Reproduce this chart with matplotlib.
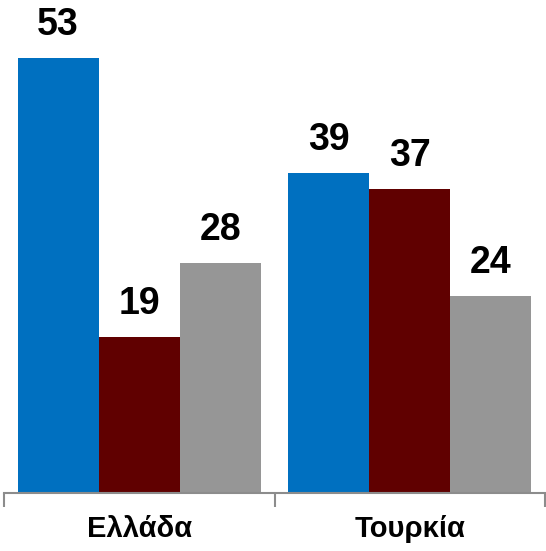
import matplotlib
matplotlib.use("Agg")
import matplotlib.pyplot as plt
import numpy as np

countries = ["Ελλάδα", "Τουρκία"]
series_a = [53, 39]
series_b = [19, 37]
series_c = [28, 24]
colors = ["#0070C0", "#600000", "#969696"]

plt.rcParams["font.family"] = ["Liberation Sans Narrow", "Liberation Sans", "DejaVu Sans"]

fig = plt.figure(figsize=(5.46, 5.51), dpi=100)
ax = fig.add_axes([4 / 546, 58 / 551, 541 / 546, 493 / 551])

x = np.arange(len(countries))
width = 0.3
for i, (vals, color) in enumerate(zip([series_a, series_b, series_c], colors)):
    pos = x + (i - 1) * width
    ax.bar(pos, vals, width=width, color=color, edgecolor="none")
    for p, v in zip(pos, vals):
        ax.text(p, v + 1.8, f"{v}", ha="center", va="bottom",
                fontsize=27, fontweight="bold", color="black")

ax.set_xlim(-0.5, len(countries) - 0.5)
ax.set_ylim(0, 60)
for side in ["top", "right", "left"]:
    ax.spines[side].set_visible(False)
ax.spines["bottom"].set_color("#8c8c8c")
ax.spines["bottom"].set_linewidth(1.5)
ax.set_yticks([])
ax.set_xticks([-0.5, 0.5, 1.5])
ax.set_xticklabels([])
ax.tick_params(axis="x", length=10, width=1.5, color="#8c8c8c", direction="out")
for xi, name in zip(x, countries):
    ax.text(xi, -4.4, name, ha="center", va="center", fontsize=21,
            fontweight="bold", clip_on=False)

fig.savefig("out.png", dpi=100)
